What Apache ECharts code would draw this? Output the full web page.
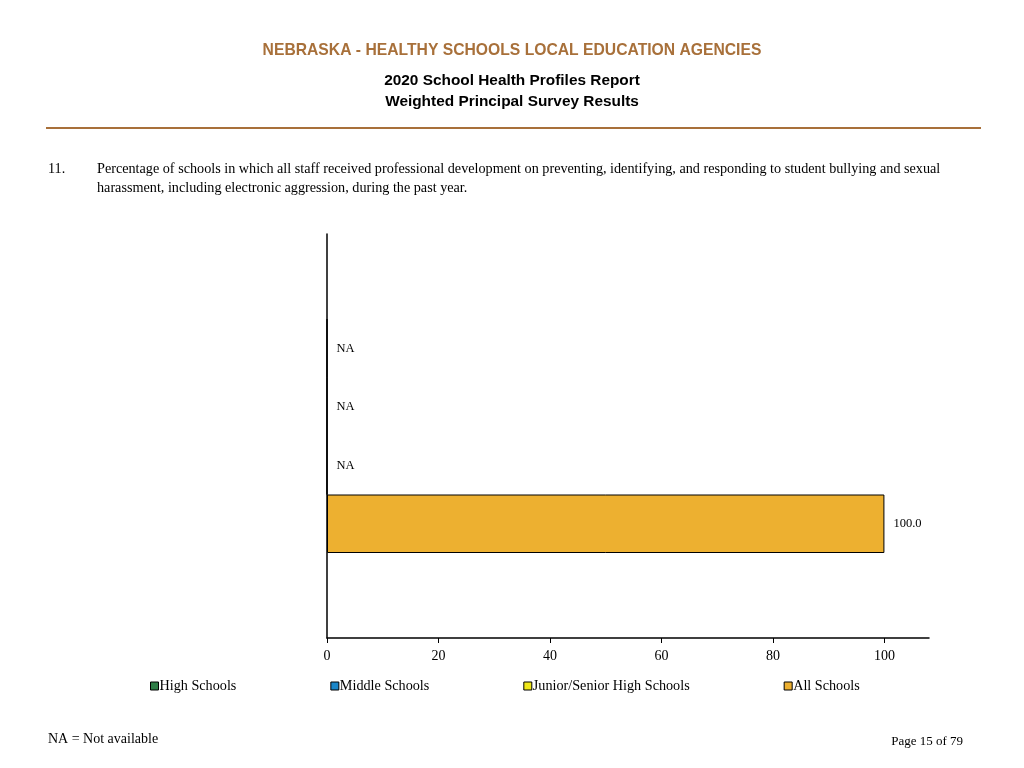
<!DOCTYPE html>
<html>
<head>
<meta charset="utf-8">
<script src="https://cdn.jsdelivr.net/npm/echarts@6/dist/echarts.min.js"></script>
<style>
html,body{margin:0;padding:0;background:#fff;}
#chart{width:1024px;height:768px;}
</style>
</head>
<body>
<div id="chart"></div>
<script>
const categories = ['Q11'];
const seriesNames = ['High Schools', 'Middle Schools', 'Junior/Senior High Schools', 'All Schools'];
const seriesValues = [null, null, null, 100.0];
const seriesColors = ['#2E7D46', '#1A86C8', '#F0E81A', '#EDB030'];
const xTicks = [0, 20, 40, 60, 80, 100];

const serif = '"Liberation Serif", "Times New Roman", serif';
const sans = '"Liberation Sans", Arial, sans-serif';

const chart = echarts.init(document.getElementById('chart'), null, {renderer: 'canvas'});

const series = seriesNames.map((name, i) => ({
  name: name,
  type: 'bar',
  data: [seriesValues[i] === null ? 0 : seriesValues[i]],
  barWidth: 58.5,
  barGap: '0%',
  itemStyle: {color: seriesColors[i], borderColor: '#000', borderWidth: 1},
  label: {
    show: true,
    position: 'right',
    distance: 9,
    color: '#000',
    fontFamily: serif,
    fontSize: 12.5,
    formatter: () => seriesValues[i] === null ? 'NA' : seriesValues[i].toFixed(1)
  },
  emphasis: {disabled: true},
  animation: false
}));

const option = {
  animation: false,
  title: [
    {text: 'NEBRASKA - HEALTHY SCHOOLS LOCAL EDUCATION AGENCIES', left: 'center', top: 38,
     textStyle: {fontFamily: sans, fontSize: 15.7, fontWeight: 'bold', color: '#A8703A'}},
    {text: '2020 School Health Profiles Report', left: 'center', top: 68,
     textStyle: {fontFamily: sans, fontSize: 15.4, fontWeight: 'bold', color: '#000'}},
    {text: 'Weighted Principal Survey Results', left: 'center', top: 89,
     textStyle: {fontFamily: sans, fontSize: 15.4, fontWeight: 'bold', color: '#000'}}
  ],
  graphic: [
    {type: 'line', shape: {x1: 46, y1: 128, x2: 981, y2: 128}, style: {stroke: '#A8703A', lineWidth: 2}},
    {type: 'text', left: 48, top: 162, style: {text: '11.', font: '14.2px ' + serif, fill: '#000'}},
    {type: 'text', left: 97, top: 162, style: {text: 'Percentage of schools in which all staff received professional development on preventing, identifying, and responding to student bullying and sexual', font: '14.2px ' + serif, fill: '#000'}},
    {type: 'text', left: 97, top: 181, style: {text: 'harassment, including electronic aggression, during the past year.', font: '14.2px ' + serif, fill: '#000'}},
    {type: 'text', left: 48, top: 732, style: {text: 'NA = Not available', font: '14px ' + serif, fill: '#000'}},
    {type: 'text', right: 61, top: 735, style: {text: 'Page 15 of 79', font: '13px ' + serif, fill: '#000'}}
  ],
  legend: {
    left: 150,
    top: 679,
    padding: 0,
    itemGap: 94,
    itemWidth: 8,
    itemHeight: 8,
    icon: 'rect',
    selectedMode: false,
    itemStyle: {borderColor: '#000', borderWidth: 1},
    textStyle: {fontFamily: serif, fontSize: 14.2, color: '#000', padding: [0, 0, 0, -4]},
    data: seriesNames
  },
  grid: {left: 327, right: 95, top: 234, bottom: 130, containLabel: false},
  xAxis: {
    type: 'value',
    min: 0,
    max: 108,
    axisLine: {show: true, lineStyle: {color: '#000', width: 1.5}},
    axisTick: {show: true, length: 5, lineStyle: {color: '#000'}, customValues: xTicks},
    axisLabel: {color: '#000', fontFamily: serif, fontSize: 14, margin: 11, customValues: xTicks},
    splitLine: {show: false}
  },
  yAxis: {
    type: 'category',
    data: categories,
    axisLine: {show: true, lineStyle: {color: '#000', width: 1.5}},
    axisTick: {show: false},
    axisLabel: {show: false},
    splitLine: {show: false}
  },
  series: series
};
chart.setOption(option);
</script>
</body>
</html>
